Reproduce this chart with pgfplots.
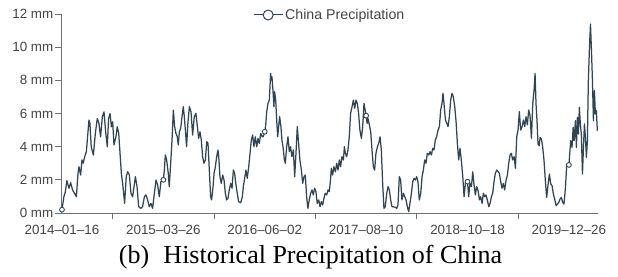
\documentclass[border=0pt]{standalone}
\usepackage{pgfplots}
\usepackage{pgfplotstable}
\pgfplotsset{compat=1.18}
\usepackage{fontspec}
\setmainfont{Liberation Serif}
\newfontfamily\lsans{Liberation Sans}
\definecolor{linec}{HTML}{2F4554}
\definecolor{axisc}{HTML}{6E7079}
\definecolor{labc}{HTML}{444444}

\pgfplotstableread{
x y
0 0.2
1.2 1.0
2.0 1.25
3.0 1.95
4.3 1.49
5.3 1.83
6.5 1.38
7.7 1.19
8.8 0.98
9.8 2.39
10.4 2.79
11.4 2.29
12.2 3.2
13.0 3.0
13.9 3.4
14.9 3.7
15.5 4.4
16.5 5.61
17.1 5.4
17.9 3.97
19.2 3.5
20.4 4.8
21.6 5.7
22.6 5.4
23.6 4.6
24.7 5.81
25.7 6.1
26.7 4.9
27.7 4.0
28.5 5.7
29.4 6.0
30.2 5.2
31.0 5.5
31.8 4.1
33.0 4.6
33.8 5.2
34.7 4.8
35.5 3.6
36.3 2.4
37.3 1.6
38.3 0.58
39.3 2.2
40.2 2.49
41.2 2.29
42.2 1.19
43.2 0.98
44.9 2.19
45.9 1.59
46.9 0.38
48.3 0.28
49.3 0.38
50.4 0.98
51.4 1.09
52.4 0.78
53.4 0.38
54.4 0.58
55.4 0.28
56.5 1.19
57.5 1.99
58.5 1.69
59.5 0.98
60.5 1.89
62 2.0
62.6 2.59
63.2 3.5
64.0 3.2
65.0 2.39
65.6 1.59
66.6 3.2
67.3 4.4
68.1 6.2
68.9 5.21
69.7 4.8
70.5 4.6
71.1 4.1
71.8 4.9
72.6 5.1
73.4 5.81
74.2 6.41
74.8 5.81
75.4 5.1
76.2 4.0
77.0 5.41
77.9 6.41
78.9 6.11
79.9 4.7
80.9 5.81
81.9 6.01
82.8 5.21
83.6 4.5
84.4 4.9
85.2 4.4
86.0 3.4
86.8 3.0
87.7 3.2
88.5 4.3
89.3 4.2
90.1 2.59
90.9 0.98
91.5 0.79
92.4 1.59
93.0 2.39
93.8 2.79
94.6 3.4
95.4 3.8
96.0 3.2
96.6 2.19
97.4 1.79
98.3 2.29
99.1 1.99
99.9 1.19
100.7 0.79
101.5 0.88
102.3 1.39
103.2 1.79
104.0 1.49
104.8 2.59
105.6 2.39
106.4 1.69
107.2 1.19
108.0 0.68
109.3 0.62
110.3 0.98
110.9 1.59
111.7 2.09
112.5 2.59
113.3 2.09
114.2 2.79
115.0 3.6
115.8 4.4
116.6 4.7
117.4 4.0
118.2 4.6
119.1 4.0
119.9 4.5
120.7 4.2
121.5 4.8
122.5 4.6
123.1 4.6
124 4.9
124.6 5.31
125.2 6.11
126.0 6.61
126.8 6.81
127.6 8.42
128.0 8.02
128.4 8.22
129.0 7.42
129.6 6.41
130.0 7.32
130.7 6.81
131.3 5.61
131.9 4.6
132.5 5.21
133.1 5.81
133.9 5.21
134.5 4.4
135.3 3.9
136.0 3.2
136.6 3.0
137.4 4.0
138.2 4.6
139.0 3.7
139.8 4.0
140.6 3.4
141.5 3.8
142.3 2.19
143.1 3.6
143.9 5.21
144.7 4.2
145.5 3.2
146.4 2.59
147.2 1.79
148.0 2.19
148.8 2.29
149.6 0.98
150.4 0.28
151.2 0.79
152.1 1.19
152.9 1.39
153.7 1.09
154.5 1.49
155.3 1.29
156.1 0.58
157.0 0.79
157.8 0.38
158.6 0.68
159.4 0.48
160.2 0.88
161.0 1.19
161.9 1.09
162.7 1.39
163.5 1.29
164.2 2.0
164.7 2.69
165.5 2.29
166.3 2.79
167.2 2.49
168.0 3.0
168.8 2.59
169.6 3.2
170.4 2.79
171.2 3.4
172.1 3.2
172.7 4.0
173.3 3.6
174.1 3.4
174.9 3.8
175.7 4.6
176.5 6.01
177.4 6.41
178.2 6.81
179.0 6.31
179.8 6.81
180.6 6.61
181.4 6.01
182.2 5.0
183.1 4.5
183.9 5.21
184.7 6.61
186 5.87
186.6 5.41
187.1 5.71
188.0 5.31
188.8 4.9
189.6 3.8
190.4 2.79
191.2 2.59
192.0 3.6
192.9 4.0
193.7 4.2
194.5 4.6
195.3 3.8
196.1 1.79
196.9 0.28
197.7 0.38
198.6 1.19
199.4 1.59
200.2 1.39
201.0 0.79
201.8 0.38
202.6 0.38
203.9 0.34
204.7 0.28
205.5 0.5
206.3 2.19
207.1 1.99
207.9 0.79
208.8 1.19
209.6 0.98
210.4 0.79
211.2 0.38
212.0 0.08
212.8 0.58
213.7 1.19
214.5 1.89
215.3 2.09
216.1 1.99
216.9 2.19
217.7 1.89
218.5 0.79
219.4 1.19
220.2 2.19
221.0 2.59
221.8 3.2
222.6 3.0
223.4 3.6
224.3 3.5
225.1 3.7
225.9 3.5
226.7 3.9
227.5 3.8
228.3 4.4
229.1 4.6
230.0 5.0
230.8 5.21
231.6 6.21
232.4 6.61
233.0 7.22
233.6 6.61
234.5 5.61
235.3 5.41
236.1 5.21
236.9 5.81
237.7 6.81
238.5 7.22
239.3 7.02
240.2 6.41
241.0 5.51
241.8 4.2
242.6 3.2
243.4 3.9
244.2 3.2
245.1 2.19
245.9 0.98
246.7 1.79
247.5 1.99
248 1.89
248.7 0.98
249.5 1.79
250.4 1.59
251.2 2.49
252.0 1.69
252.8 1.09
253.6 1.59
254.4 1.39
255.3 0.79
256.1 0.98
256.9 0.58
257.7 1.19
258.5 0.98
259.3 1.09
260.1 0.79
261.0 0.38
261.8 0.58
262.6 0.98
263.4 1.19
264.2 1.89
265.0 2.39
265.9 2.59
266.7 2.49
267.5 2.39
268.3 1.89
269.1 1.49
269.9 1.79
270.7 1.39
271.6 1.99
272.4 2.29
273.2 3.0
274.0 3.5
274.8 3.6
275.6 3.2
276.5 3.4
277.3 2.69
278.1 4.6
278.9 5.0
279.7 6.11
280.5 5.0
281.4 5.21
282.2 5.61
283.0 5.21
283.8 5.81
284.6 5.31
285.4 6.21
286.2 5.91
287.1 4.5
287.9 6.61
288.7 7.42
289.3 8.42
289.9 6.57
290.5 5.57
291.1 4.16
291.8 4.06
292.4 4.56
293.2 4.46
294.0 3.96
294.8 3.15
295.6 1.95
296.4 0.94
297.3 1.75
298.1 2.35
298.9 1.75
299.7 1.65
300.5 1.14
301.3 0.84
302.2 0.44
303.0 0.54
303.8 0.64
304.6 0.84
305.4 0.94
306.2 0.64
307.0 0.54
307.9 1.55
308.7 2.95
310 2.9
311.1 4.36
311.9 3.96
312.6 5.16
313.2 4.36
314.0 5.57
314.6 3.96
315.2 5.77
315.8 4.76
316.4 6.37
317.0 5.37
317.6 4.76
318.3 2.35
318.9 3.96
319.5 5.37
320.1 4.56
320.7 3.36
321.3 4.36
321.9 7.98
322.5 9.79
323.2 11.4
323.8 9.79
324.4 7.98
325.0 5.57
325.6 7.38
326.2 5.97
326.8 6.17
327.4 4.96
}\precip

\pgfplotstableread{
x y
0 0.2
62 2.0
124 4.9
186 5.87
248 1.89
310 2.9
}\marks

\begin{document}
\begin{tikzpicture}
\useasboundingbox (-61pt,-63pt) rectangle (557pt,213pt);
\begin{axis}[
  at={(0pt,0pt)}, anchor=south west,
  scale only axis, width=537pt, height=199pt,
  xmin=-0.6, xmax=327.8, ymin=0, ymax=12,
  axis x line=bottom, axis y line=left,
  axis line style={-, draw=axisc, line width=0.8pt},
  ytick={0,2,4,6,8,10,12},
  yticklabels={0 mm,2 mm,4 mm,6 mm,8 mm,10 mm,12 mm},
  xtick={31,93,155,217,279}, xticklabels={},
  extra x ticks={0,62,124,186,248,310},
  extra x tick labels={2014–01–16,2015–03–26,2016–06–02,2017–08–10,2018–10–18,2019–12–26},
  extra x tick style={tick style={draw=none}},
  tick align=outside, major tick length=6pt,
  tick style={draw=axisc, line width=0.8pt},
  ticklabel style={font=\lsans\fontsize{13.4}{15}\selectfont, text=labc},
  yticklabel style={inner sep=1.5pt},
  xticklabel style={yshift=-2.5pt},
  /pgf/number format/assume math mode=true,
  clip=false,
  legend style={draw=none, fill=none, at={(0.3575,0.995)}, anchor=west,
    font=\lsans\fontsize{14.2}{16}\selectfont, text=labc, inner sep=0pt},
  legend cell align=left,
]
\addplot[draw=linec, line width=1.25pt, line join=round, mark=none,
  legend image code/.code={
    \draw[line width=1pt, draw=linec] (0pt,0pt) -- (29pt,0pt);
    \draw[line width=1pt, draw=linec, fill=white] (14.5pt,0pt) circle (5pt);
  }] table[x=x,y=y] {\precip};
\addlegendentry{China Precipitation}
\addplot[forget plot, only marks, mark=*, mark size=2.4pt,
  mark options={draw=linec, fill=white, line width=0.9pt}] table[x=x,y=y] {\marks};
\end{axis}
\node[anchor=base, font=\fontsize{26}{30}\selectfont] at (249.5pt,-50pt)
  {(b)\hspace{0.55em}Historical Precipitation of China};
\end{tikzpicture}
\end{document}
